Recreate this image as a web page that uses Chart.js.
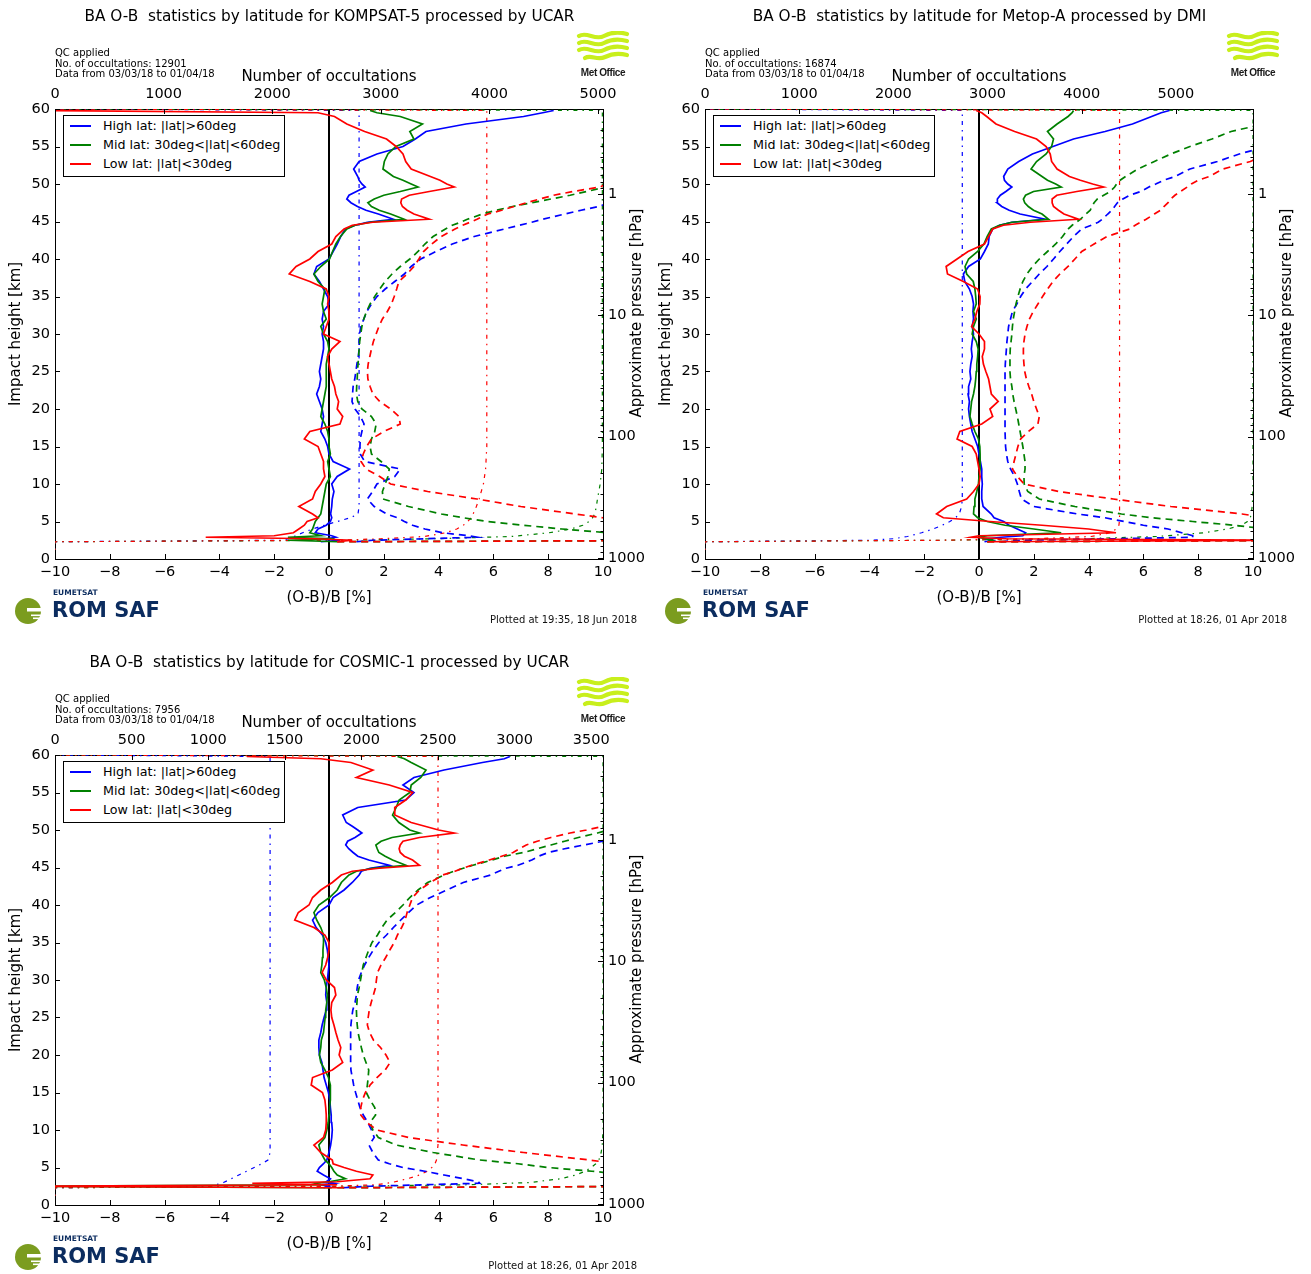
<!DOCTYPE html>
<html>
<head>
<meta charset="utf-8">
<title>BA O-B statistics by latitude</title>
<script src="https://cdn.jsdelivr.net/npm/chart.js@4.4.1/dist/chart.umd.min.js"></script>
<style>
html, body { margin: 0; padding: 0; background: #fff; }
body { position: relative; width: 1311px; height: 1274px; overflow: hidden; font-family: "DejaVu Sans", sans-serif; color: #000; }
.panel { position: absolute; width: 650px; height: 640px; }
.panel canvas { position: absolute; left: 0; top: 0; }
.head { position: absolute; left: 0; top: 7px; width: 659px; text-align: center; font-size: 15.3px; line-height: 19px; white-space: pre; }
.qc { position: absolute; left: 55px; top: 48px; font-size: 10px; line-height: 10.5px; white-space: pre; }
.key { position: absolute; left: 63px; top: 115px; width: 220px; height: 60px; border: 1px solid #000; background: #fff; }
.key .row { position: absolute; left: 0; width: 220px; height: 19px; }
.key .swatch { position: absolute; left: 6px; top: 9px; width: 21px; height: 0; border-top: 2px solid; }
.key .txt { position: absolute; left: 39px; top: 0; font-size: 12.7px; line-height: 19px; white-space: pre; }
.ptitle { position: absolute; left: 506px; top: 304px; width: 260px; height: 18px; line-height: 18px; font-size: 15px; text-align: center; transform: rotate(-90deg); white-space: pre; }
.stamp { position: absolute; right: 13px; top: 614px; font-size: 10px; line-height: 12px; white-space: pre; color: #111; }
.mo { position: absolute; left: 576px; top: 31px; width: 54px; }
.mo svg { display: block; }
.mo-name { font-family: "Liberation Sans", sans-serif; font-weight: bold; font-size: 10px; letter-spacing: -0.4px; line-height: 11px; text-align: center; color: #1a1a1a; margin-top: 4px; }
.romsaf { position: absolute; left: 14px; top: 586px; width: 150px; height: 40px; }
.romsaf svg { position: absolute; left: 0; top: 10px; }
.romsaf .eu { position: absolute; left: 39px; top: 2px; font-size: 7.5px; line-height: 9px; font-weight: bold; color: #0b2c5f; }
.romsaf .rs { position: absolute; left: 38px; top: 12px; font-size: 21px; line-height: 24px; font-weight: bold; color: #0b2c5f; white-space: pre; }
</style>
</head>
<body>
<script>
// impact heights (km) shared by the mean and std-dev profiles
const heights = [
  2.3, 2.5, 2.7, 2.9, 3.1, 3.5, 4, 4.5, 5, 5.5, 6,
  7, 8, 9, 10, 11, 12, 13, 14, 15, 16, 17, 18, 19, 20,
  21, 22, 23, 24, 25, 26, 27, 28, 29, 30, 31, 32, 33, 34, 35,
  36, 37, 38, 39, 40, 41, 42, 43,
  44, 44.5, 44.9, 45.3, 46, 46.5, 47, 47.5, 48, 48.5, 49, 49.6, 50, 50.5,
  51, 52, 53, 54, 55, 56, 57, 58, 59, 59.5, 59.8
];
// impact heights (km) for the occultation counts
const countHeights = [0, 2.3, 2.5, 2.7, 3, 3.5, 4, 4.5, 5, 5.5, 6, 7, 8, 10, 12, 15, 20, 30, 40, 50, 59.8, 60];

// ---- KOMPSAT-5 / UCAR ----
const k5HighMean = [
  -0.3, 0.4, -0.1, 0.25, 0.1, -0.5, -0.4, -0.1, 0.05, 0.1, 0.06,
  0.1, 0.12, 0.18, 0.1, 0.3, 0.75, 0.15, 0.0, -0.05, -0.15, -0.3, -0.25, -0.2, -0.25,
  -0.35, -0.45, -0.35, -0.3, -0.35, -0.3, -0.25, -0.2, -0.2, -0.25, -0.2, -0.25, -0.2, 0.0, -0.05,
  -0.2, -0.35, -0.55, -0.45, 0.0, 0.15, 0.3, 0.43,
  0.6, 0.95, 1.4, 2.35, 1.8, 1.35, 1.04, 0.8, 0.65, 0.73, 1.0, 1.32, 1.2, 1.1,
  1.05, 0.9, 1.1, 1.75, 2.7, 3.15, 3.54, 5.0, 7.1, 7.8, 8.2
];
const k5MidMean = [
  0.3, -1.5, 0.2, -1.5, -0.3, -0.7, -0.6, -0.55, -0.5, -0.4, -0.3,
  -0.25, -0.2, -0.15, -0.1, 0.05, 0.0, -0.05, 0.05, 0.0, 0.0, -0.05, -0.15, -0.3, -0.25,
  -0.2, -0.15, -0.1, -0.1, -0.1, -0.1, -0.05, 0.0, -0.05, -0.2, -0.3, -0.1, -0.2, -0.25, -0.2,
  -0.15, -0.4, -0.55, -0.3, 0.02, 0.13, 0.25, 0.42,
  0.65, 0.95, 1.5, 2.74, 2.25, 1.83, 1.55, 1.42, 1.65, 2.0, 2.6, 3.25, 3.0, 2.7,
  2.35, 1.97, 2.02, 2.15, 2.44, 3.1, 2.95, 3.41, 2.6, 1.75, 1.5
];
const k5LowMean = [
  0.3, 0.85, -0.5, -4.5, -2.0, -1.3, -1.1, -0.9, -0.8, -0.4, -0.6,
  -1.1, -0.6, -0.5, -0.3, -0.15, -0.2, -0.2, -0.3, -0.4, -0.9, -0.7, 0.4, 0.5, 0.3,
  0.35, 0.25, 0.2, 0.1, 0.05, 0.0, -0.05, 0.1, 0.4, -0.2, -0.1, 0.0, 0.0, -0.05, 0.0,
  -0.1, -0.7, -1.45, -1.2, -0.7, -0.4, 0.1, 0.25,
  0.55, 0.85, 1.6, 3.66, 3.1, 2.85, 2.68, 2.62, 2.65, 2.93, 3.66, 4.57, 4.3, 4.05,
  3.7, 3.0, 2.8, 2.7, 2.45, 2.1, 1.3, 0.65, 0.2, -0.4, -10.5
];
const k5HighStd = [
  1.0, 1.6, 3.5, 5.4, 5.1, 4.15, 3.5, 3.05, 2.75, 2.5, 2.1,
  1.65, 1.4, 1.59, 1.75, 2.4, 2.6, 1.3, 1.14, 1.13, 1.14, 1.2, 1.28, 1.15, 0.95,
  0.84, 0.86, 0.88, 0.94, 0.98, 1.02, 1.07, 1.1, 1.1, 1.12, 1.16, 1.27, 1.38, 1.55, 1.75,
  2.05, 2.4, 2.75, 3.0, 3.35, 3.9, 4.5, 5.3,
  6.4, 6.95, 7.4, 7.8, 8.6, 9.2, 9.85, 10.2, 10.5, 10.9, 11.2, 11.7, 12, 12.5,
  13, 13.5, 14, 15, 15.5, 16, 17, 18, 19, 20, 20
];
const k5MidStd = [
  0.3, 15, 14, 13, 12, 10.2, 8.5, 7.1, 5.8, 4.9, 4.1,
  2.9, 1.97, 1.95, 2.05, 2.15, 2.2, 1.9, 1.55, 1.5, 1.55, 1.67, 1.72, 1.55, 1.2,
  1.05, 1.0, 1.01, 1.03, 1.04, 1.06, 1.08, 1.1, 1.12, 1.16, 1.2, 1.27, 1.37, 1.5, 1.67,
  1.85, 2.05, 2.3, 2.6, 2.95, 3.25, 3.5, 3.8,
  4.25, 4.5, 4.8, 5.05, 5.6, 6.1, 6.7, 7.4, 8.1, 8.8, 9.4, 10.1, 10.4, 10.8,
  11.2, 12, 13, 14, 15, 16, 17, 18, 19, 20, 20
];
const k5LowStd = [
  0.3, 15, 15, 15, 15, 14, 13, 12, 11, 10, 9,
  7.0, 5.4, 3.6, 2.25, 1.85, 1.35, 1.17, 1.25, 1.37, 1.55, 2.0, 2.6, 2.55, 2.25,
  1.85, 1.6, 1.5, 1.42, 1.4, 1.43, 1.49, 1.55, 1.62, 1.72, 1.82, 1.95, 2.13, 2.28, 2.38,
  2.47, 2.55, 2.85, 3.1, 3.28, 3.45, 3.75, 4.1,
  4.6, 4.88, 5.15, 5.4, 5.8, 6.3, 6.75, 7.2, 7.7, 8.2, 8.9, 9.9, 10.1, 10.6,
  11.5, 12.5, 13.5, 14.5, 15.5, 16.5, 17.5, 18.5, 19.5, 20, 20
];
const k5HighCount = [0, 0, 2100, 2150, 2200, 2280, 2370, 2480, 2600, 2720, 2790, 2800, 2800, 2800, 2800, 2800, 2800, 2800, 2800, 2800, 2800, 0];
const k5MidCount = [0, 0, 2700, 3500, 4200, 4550, 4750, 4860, 4920, 4950, 4970, 4985, 4995, 5020, 5035, 5040, 5040, 5040, 5040, 5040, 5040, 0];
const k5LowCount = [0, 0, 2600, 3000, 3400, 3600, 3700, 3760, 3800, 3830, 3850, 3880, 3905, 3945, 3965, 3976, 3976, 3976, 3976, 3976, 3976, 0];

// ---- Metop-A / DMI ----
const maHighMean = [
  0.2, 0.5, 0.3, 0.8, 1.6, 1.7, 1.4, 1.1, 0.9, 0.55, 0.45,
  0.15, 0.1, 0.1, 0.12, 0.1, 0.1, 0.05, 0.0, -0.05, -0.15, -0.25, -0.3, -0.35, -0.38,
  -0.35, -0.4, -0.38, -0.3, -0.33, -0.3, -0.25, -0.28, -0.25, -0.2, -0.25, -0.2, -0.22, -0.2, -0.25,
  -0.35, -0.52, -0.57, -0.38, 0.05, 0.2, 0.34, 0.37,
  0.5, 0.75, 1.2, 2.41, 1.5, 1.1, 0.83, 0.66, 0.67, 0.78, 0.98, 1.2, 1.05, 0.93,
  0.9, 1.05, 1.45, 1.95, 2.7, 3.45, 4.6, 5.6, 6.3, 6.65, 6.95
];
const maMidMean = [
  0.3, 0.5, 0.2, 0.0, 0.3, 3.0, 2.0, 0.95, 0.3, -0.05, -0.2,
  -0.18, -0.15, -0.08, -0.02, 0.0, 0.04, 0.04, 0.04, 0.03, -0.02, -0.15, -0.25, -0.33, -0.3,
  -0.27, -0.2, -0.15, -0.12, -0.1, -0.08, -0.05, -0.03, -0.1, -0.25, -0.2, -0.1, -0.2, -0.1, -0.12,
  -0.15, -0.21, -0.45, -0.51, -0.38, -0.05, 0.18, 0.3,
  0.45, 0.75, 1.2, 2.54, 2.3, 1.99, 1.8, 1.67, 1.62, 1.7, 1.99, 3.0, 2.8, 2.5,
  2.3, 1.9, 2.1, 2.45, 2.65, 2.72, 2.5, 2.85, 3.25, 3.4, 3.45
];
const maLowMean = [
  0.3, 12, 1.0, -0.3, 0.0, 5.0, 4.0, 2.3, 0.4, -1.3, -1.55,
  -1.18, -0.45, -0.2, 0.0, 0.04, 0.0, -0.05, -0.1, -0.25, -0.8, -0.7, 0.1, 0.5, 0.4,
  0.7, 0.45, 0.4, 0.35, 0.25, 0.16, 0.12, 0.2, 0.2, 0.0, -0.27, -0.15, -0.08, 0.03, 0.04,
  -0.05, -0.57, -1.15, -1.2, -0.8, -0.4, 0.2, 0.35,
  0.5, 0.89, 1.87, 3.63, 3.1, 2.9, 2.72, 2.67, 2.67, 2.84, 3.57, 4.55, 4.15, 3.7,
  3.3, 2.85, 2.65, 2.6, 2.45, 2.1, 1.3, 0.62, 0.28, 0.1, -0.1
];
const maHighStd = [
  0.8, 1.5, 5.0, 7.8, 7.8, 7.4, 6.9, 6.0, 5.3, 4.6, 3.6,
  2.0, 1.55, 1.47, 1.4, 1.3, 1.15, 1.05, 1.0, 0.97, 0.96, 0.95, 0.95, 0.95, 0.95,
  0.95, 0.95, 0.95, 0.95, 0.95, 0.96, 0.98, 1.0, 1.02, 1.05, 1.08, 1.15, 1.22, 1.38, 1.52,
  1.7, 1.95, 2.2, 2.48, 2.72, 2.95, 3.2, 3.45,
  3.75, 4.1, 4.35, 4.5, 4.7, 4.85, 4.95, 5.05, 5.25, 5.5, 5.9, 6.2, 6.45, 6.74,
  7.15, 7.7, 8.7, 9.5, 10.5, 12, 14, 16, 18, 19, 20
];
const maMidStd = [
  0.3, 13, 13, 13, 13, 12, 10.5, 9.3, 7.8, 6.3, 5.2,
  3.5, 2.2, 1.78, 1.65, 1.64, 1.68, 1.68, 1.64, 1.6, 1.55, 1.5, 1.45, 1.4, 1.34,
  1.28, 1.23, 1.2, 1.15, 1.13, 1.13, 1.13, 1.14, 1.17, 1.2, 1.22, 1.25, 1.3, 1.35, 1.42,
  1.5, 1.6, 1.75, 1.95, 2.2, 2.5, 2.8, 3.05,
  3.25, 3.4, 3.55, 3.7, 3.9, 4.06, 4.12, 4.2, 4.32, 4.55, 4.79, 4.95, 5.02, 5.15,
  5.35, 5.8, 6.4, 7.0, 7.7, 8.5, 9.2, 10.4, 12, 12.6, 13
];
const maLowStd = [
  0.3, 13, 13, 13, 13, 13, 12.5, 12, 11.5, 10.5, 9.6,
  7.0, 4.9, 2.9, 1.65, 1.4, 1.22, 1.28, 1.35, 1.42, 1.52, 1.8, 2.15, 2.2, 2.1,
  2.0, 1.92, 1.82, 1.73, 1.67, 1.64, 1.62, 1.62, 1.64, 1.68, 1.75, 1.84, 1.98, 2.15, 2.32,
  2.5, 2.7, 2.95, 3.25, 3.5, 3.75, 4.2, 4.67,
  5.5, 5.7, 5.9, 6.1, 6.4, 6.62, 6.75, 6.9, 7.0, 7.15, 7.35, 7.6, 7.75, 8.0,
  8.4, 8.9, 9.9, 10.6, 11.5, 12.5, 13.5, 15, 16.5, 17.5, 18
];
const maHighCount = [0, 0, 1750, 2000, 2150, 2300, 2420, 2520, 2600, 2660, 2700, 2725, 2732, 2732, 2732, 2732, 2732, 2732, 2732, 2732, 2732, 0];
const maMidCount = [0, 0, 2500, 4000, 4800, 5300, 5550, 5700, 5760, 5790, 5800, 5810, 5815, 5819, 5819, 5819, 5819, 5819, 5819, 5819, 5819, 0];
const maLowCount = [0, 0, 2500, 3500, 4100, 4300, 4370, 4395, 4400, 4402, 4402, 4402, 4402, 4402, 4402, 4402, 4402, 4402, 4402, 4402, 4402, 0];

// ---- COSMIC-1 / UCAR ----
const c1HighMean = [
  -0.2, 0.0, -0.3, 0.2, -0.1, 0.05, -0.2, -0.43, -0.35, -0.2, -0.08,
  0.0, 0.06, 0.1, 0.12, 0.1, 0.08, 0.05, 0.03, -0.02, -0.1, -0.18, -0.22, -0.26, -0.35,
  -0.37, -0.37, -0.3, -0.25, -0.18, -0.1, -0.08, -0.12, -0.1, -0.06, -0.03, 0.0, -0.03, -0.06, -0.12,
  -0.24, -0.47, -0.6, -0.4, 0.0, 0.15, 0.55, 0.85,
  1.1, 1.18, 1.5, 2.2, 1.45, 1.05, 0.88, 0.72, 0.61, 0.68, 0.95, 1.2, 1.05, 0.85,
  0.63, 0.5, 1.05, 2.8, 3.1, 2.7, 3.1, 4.2, 5.6, 6.4, 6.6
];
const c1MidMean = [
  0.1, -12, -0.3, -0.5, 0.0, 0.6, 0.3, 0.18, 0.1, 0.0, -0.15,
  -0.3, -0.37, -0.15, -0.08, -0.03, 0.0, 0.02, 0.05, 0.06, 0.04, -0.02, -0.15, -0.3, -0.35,
  -0.3, -0.28, -0.2, -0.17, -0.14, -0.12, -0.08, -0.06, -0.1, -0.17, -0.3, -0.26, -0.24, -0.22, -0.2,
  -0.2, -0.3, -0.45, -0.55, -0.37, 0.02, 0.3, 0.45,
  0.73, 1.0, 1.6, 2.8, 2.32, 2.05, 1.82, 1.76, 1.71, 1.9, 2.3, 3.3, 2.95, 2.75,
  2.55, 2.32, 2.45, 2.56, 2.95, 3.0, 3.35, 3.54, 3.0, 2.75, 2.5
];
const c1LowMean = [
  0.3, -12, 0.3, -2.8, 0.3, 1.5, 1.6, 1.0, 0.55, 0.15, 0.12,
  -0.3, -0.55, -0.2, -0.12, -0.1, -0.1, -0.12, -0.15, -0.24, -0.65, -0.6, 0.12, 0.5, 0.37,
  0.43, 0.33, 0.25, 0.18, 0.1, 0.07, 0.1, 0.25, 0.2, -0.1, -0.25, -0.12, -0.05, 0.0, 0.0,
  -0.15, -0.55, -1.25, -1.12, -0.73, -0.6, -0.3, 0.12,
  0.45, 0.85, 1.83, 3.3, 3.05, 2.75, 2.6, 2.56, 2.6, 2.7, 3.3, 4.57, 4.0, 3.5,
  3.0, 2.4, 2.4, 2.8, 3.05, 2.2, 1.0, 1.6, 0.8, -0.3, -3.0
];
const c1HighStd = [
  0.5, 1.5, 3.5, 5.5, 5.45, 4.9, 4.2, 3.5, 2.7, 2.2, 1.8,
  1.6, 1.46, 1.65, 1.55, 1.42, 1.25, 1.13, 1.05, 0.97, 0.9, 0.85, 0.8, 0.79, 0.79,
  0.79, 0.79, 0.79, 0.8, 0.83, 0.87, 0.95, 1.0, 1.03, 1.08, 1.18, 1.3, 1.45, 1.62, 1.82,
  2.1, 2.35, 2.62, 2.9, 3.2, 3.7, 4.3, 4.9,
  5.9, 6.2, 6.46, 6.9, 7.4, 7.65, 8.0, 8.6, 9.3, 10, 10.2, 10.3, 10.4, 10.6,
  10.8, 11, 11.5, 12, 12.5, 13, 13.5, 14, 14.5, 15, 15
];
const c1MidStd = [
  0.3, 13, 13, 13, 13, 12, 11, 9.6, 8.0, 6.9, 5.5,
  3.8, 2.44, 1.8, 1.6, 1.5, 1.7, 1.67, 1.5, 1.36, 1.4, 1.43, 1.45, 1.35, 1.25,
  1.18, 1.12, 1.06, 1.03, 1.01, 1.0, 1.02, 1.04, 1.1, 1.15, 1.2, 1.25, 1.35, 1.45, 1.57,
  1.77, 1.93, 2.12, 2.42, 2.7, 2.95, 3.25, 3.6,
  4.2, 4.55, 4.9, 5.25, 5.95, 6.4, 7.1, 7.6, 8.1, 8.6, 9.1, 9.8, 10.2, 10.6,
  11, 11.8, 12.5, 13, 13.5, 14, 14.5, 15, 15.5, 16, 16
];
const c1LowStd = [
  0.3, 13, 13, 13, 13, 13, 12.5, 12, 11.5, 10.5, 9.5,
  7.1, 4.88, 2.9, 1.75, 1.38, 1.16, 1.16, 1.22, 1.33, 1.5, 1.75, 2.05, 2.23, 2.08,
  1.88, 1.62, 1.48, 1.4, 1.43, 1.47, 1.54, 1.62, 1.7, 1.73, 1.77, 1.9, 2.07, 2.22, 2.38,
  2.5, 2.65, 2.78, 2.85, 2.95, 3.05, 3.3, 3.7,
  4.15, 4.6, 4.88, 5.2, 5.85, 6.3, 6.72, 6.95, 7.2, 7.6, 8.1, 8.8, 9.4, 10.0,
  10.6, 11.5, 12.5, 13.5, 14, 14.5, 15, 15.5, 16, 16, 16
];
const c1HighCount = [0, 0, 1000, 1050, 1100, 1150, 1200, 1250, 1300, 1350, 1390, 1404, 1404, 1404, 1404, 1404, 1404, 1404, 1404, 1404, 1404, 0];
const c1MidCount = [0, 0, 1900, 2700, 3100, 3300, 3400, 3460, 3500, 3530, 3550, 3565, 3572, 3577, 3577, 3577, 3577, 3577, 3577, 3577, 3577, 0];
const c1LowCount = [0, 0, 1800, 2100, 2200, 2300, 2380, 2430, 2460, 2480, 2490, 2495, 2500, 2500, 2500, 2500, 2500, 2500, 2500, 2500, 2500, 0];

// per-panel text and axis ranges
const missions = ['KOMPSAT-5', 'Metop-A', 'COSMIC-1'];
const centres = ['UCAR', 'DMI', 'UCAR'];
const occultations = [12901, 16874, 7956];
const plottedAt = ['19:35, 18 Jun 2018', '18:26, 01 Apr 2018', '18:26, 01 Apr 2018'];
const countAxisMax = [5046, 5819, 3577];
const countAxisStep = [1000, 1000, 500];
const bandLabels = ['High lat: |lat|>60deg', 'Mid lat: 30deg<|lat|<60deg', 'Low lat: |lat|<30deg'];
const meanProfiles = [[k5HighMean, k5MidMean, k5LowMean], [maHighMean, maMidMean, maLowMean], [c1HighMean, c1MidMean, c1LowMean]];
const stdProfiles = [[k5HighStd, k5MidStd, k5LowStd], [maHighStd, maMidStd, maLowStd], [c1HighStd, c1MidStd, c1LowStd]];
const countProfiles = [[k5HighCount, k5MidCount, k5LowCount], [maHighCount, maMidCount, maLowCount], [c1HighCount, c1MidCount, c1LowCount]];
const pressureTicks = [1, 10, 100, 1000];
const zeroLineX = [0, 0];
const zeroLineHeights = [0, 60];

const panelLeft = [0, 650, 0];
const panelTop = [0, 0, 646];
const bandColours = ['#0000ff', '#008000', '#ff0000'];

Chart.defaults.font.family = '"DejaVu Sans", sans-serif';
Chart.defaults.color = '#000';

const toPoints = (xs, ys) => xs.map((v, i) => ({ x: v, y: ys[i] }));
const withMinus = v => (v < 0 ? '\u2212' + Math.abs(v) : String(v));

// matplotlib-style ticks pointing into the plot, incl. log minor ticks on the pressure axis
const inwardTicks = {
  id: 'inwardTicks',
  afterDraw(chart) {
    const { ctx, chartArea: a, scales } = chart;
    const seg = (x1, y1, x2, y2) => { ctx.beginPath(); ctx.moveTo(x1, y1); ctx.lineTo(x2, y2); ctx.stroke(); };
    ctx.save();
    ctx.strokeStyle = '#000';
    ctx.lineWidth = 1;
    scales.x.ticks.forEach(t => { const p = Math.round(scales.x.getPixelForValue(t.value)) + 0.5; seg(p, a.bottom, p, a.bottom - 5); });
    scales.xTop.ticks.forEach(t => { const p = Math.round(scales.xTop.getPixelForValue(t.value)) + 0.5; seg(p, a.top, p, a.top + 5); });
    scales.y.ticks.forEach(t => { const p = Math.round(scales.y.getPixelForValue(t.value)) + 0.5; seg(a.left, p, a.left + 5, p); });
    const yp = scales.yP;
    for (let dec = 0.1; dec <= 1000; dec *= 10) {
      for (let m = 1; m < 10; m++) {
        const v = m * dec;
        if (v < yp.min || v > yp.max) continue;
        const p = Math.round(yp.getPixelForValue(v)) + 0.5;
        seg(a.right, p, a.right - (m === 1 ? 5 : 2.5), p);
      }
    }
    ctx.restore();
  }
};

function buildPanel(i) {
  const div = document.createElement('div');
  div.className = 'panel';
  div.style.left = panelLeft[i] + 'px';
  div.style.top = panelTop[i] + 'px';
  const rows = bandLabels.map((lab, b) =>
    `<div class="row" style="top:${b * 19}px"><span class="swatch" style="border-color:${bandColours[b]}"></span>` +
    `<span class="txt">${lab.replace(/</g, '&lt;').replace(/>/g, '&gt;')}</span></div>`).join('');
  div.innerHTML =
    `<canvas width="650" height="640"></canvas>` +
    `<div class="head">BA O-B  statistics by latitude for ${missions[i]} processed by ${centres[i]}</div>` +
    `<div class="qc">QC applied\nNo. of occultations: ${occultations[i]}\nData from 03/03/18 to 01/04/18</div>` +
    `<div class="key">${rows}</div>` +
    `<div class="ptitle">Approximate pressure [hPa]</div>` +
    `<div class="mo"><svg width="54" height="32" viewBox="0 0 54 32"><g fill="none" stroke="#c8ef1c" stroke-width="4.2" stroke-linecap="round">` +
    `<path d="M3 5 C 11 0, 19 10, 28 5 S 44 1, 51 3"/><path d="M3 12 C 11 7, 19 17, 28 12 S 44 8, 51 10"/>` +
    `<path d="M3 19 C 11 14, 19 24, 28 19 S 44 15, 51 17"/><path d="M9 27 C 15 23, 21 30, 29 26 S 43 22, 51 24"/></g></svg>` +
    `<div class="mo-name">Met Office</div></div>` +
    `<div class="romsaf"><svg width="30" height="30" viewBox="0 0 30 30"><circle cx="14" cy="15" r="13" fill="#7b9c1f"/>` +
    `<rect x="13" y="12" width="16" height="3.5" fill="#fff"/><rect x="17" y="18.5" width="12" height="1.6" fill="#fff"/>` +
    `<rect x="19" y="21.5" width="10" height="1.6" fill="#fff"/></svg>` +
    `<div class="eu">EUMETSAT</div><div class="rs">ROM SAF</div></div>` +
    `<div class="stamp">Plotted at ${plottedAt[i]}</div>`;
  document.body.appendChild(div);

  const datasets = [{ data: toPoints(zeroLineX, zeroLineHeights), borderColor: '#000', borderWidth: 2 }];
  for (let b = 0; b < 3; b++) {
    datasets.push({ data: toPoints(countProfiles[i][b], countHeights), xAxisID: 'xTop', borderColor: bandColours[b], borderWidth: 1.2, borderDash: [4, 5, 1.5, 5] });
  }
  for (let b = 0; b < 3; b++) {
    datasets.push({ data: toPoints(stdProfiles[i][b], heights), borderColor: bandColours[b], borderWidth: 1.7, borderDash: [7, 5] });
  }
  for (let b = 0; b < 3; b++) {
    datasets.push({ data: toPoints(meanProfiles[i][b], heights), borderColor: bandColours[b], borderWidth: 1.7 });
  }
  datasets.forEach((d, k) => {
    Object.assign(d, { showLine: true, pointRadius: 0, fill: false, tension: 0, yAxisID: 'y', order: -k });
    if (!d.xAxisID) d.xAxisID = 'x';
  });

  const tickFont = { size: 14.5 };
  const titleFont = { size: 15 };
  const border = { display: true, color: '#000', width: 1 };
  const grid = { display: false, drawTicks: false };

  new Chart(div.querySelector('canvas'), {
    type: 'scatter',
    data: { datasets },
    plugins: [inwardTicks],
    options: {
      responsive: false,
      animation: false,
      events: [],
      layout: { padding: 0, autoPadding: false },
      plugins: { legend: { display: false }, tooltip: { enabled: false } },
      scales: {
        x: {
          type: 'linear', position: 'bottom', min: -10, max: 10,
          grid, border,
          ticks: { stepSize: 2, padding: 5, font: tickFont, autoSkip: false, maxRotation: 0, includeBounds: false, callback: withMinus },
          title: { display: true, text: '(O-B)/B [%]', font: titleFont, padding: { top: 0, bottom: 33 } },
          afterFit: s => { s.height = 81; }
        },
        xTop: {
          type: 'linear', position: 'top', min: 0, max: countAxisMax[i],
          grid, border,
          ticks: { padding: 6, font: tickFont, autoSkip: false, maxRotation: 0, callback: v => String(v) },
          afterBuildTicks: s => {
            const t = [];
            for (let v = 0; v <= countAxisMax[i]; v += countAxisStep[i]) t.push({ value: v });
            s.ticks = t;
          },
          title: { display: true, text: 'Number of occultations', font: titleFont, padding: { top: 68, bottom: 0 } },
          afterFit: s => { s.height = 109; }
        },
        y: {
          type: 'linear', position: 'left', min: 0, max: 60,
          grid, border,
          ticks: { stepSize: 5, padding: 5, font: tickFont, autoSkip: false },
          title: { display: true, text: 'Impact height [km]', font: titleFont, padding: { top: 7, bottom: 0 } },
          afterFit: s => { s.width = 55; }
        },
        yP: {
          type: 'logarithmic', position: 'right', min: 0.2, max: 1020, reverse: true,
          grid, border,
          ticks: { padding: 5, font: tickFont, autoSkip: false, callback: v => String(v) },
          afterBuildTicks: s => { s.ticks = pressureTicks.map(v => ({ value: v })); },
          afterFit: s => { s.width = 47; }
        }
      }
    }
  });
}

for (let i = 0; i < 3; i++) buildPanel(i);
</script>
</body>
</html>
